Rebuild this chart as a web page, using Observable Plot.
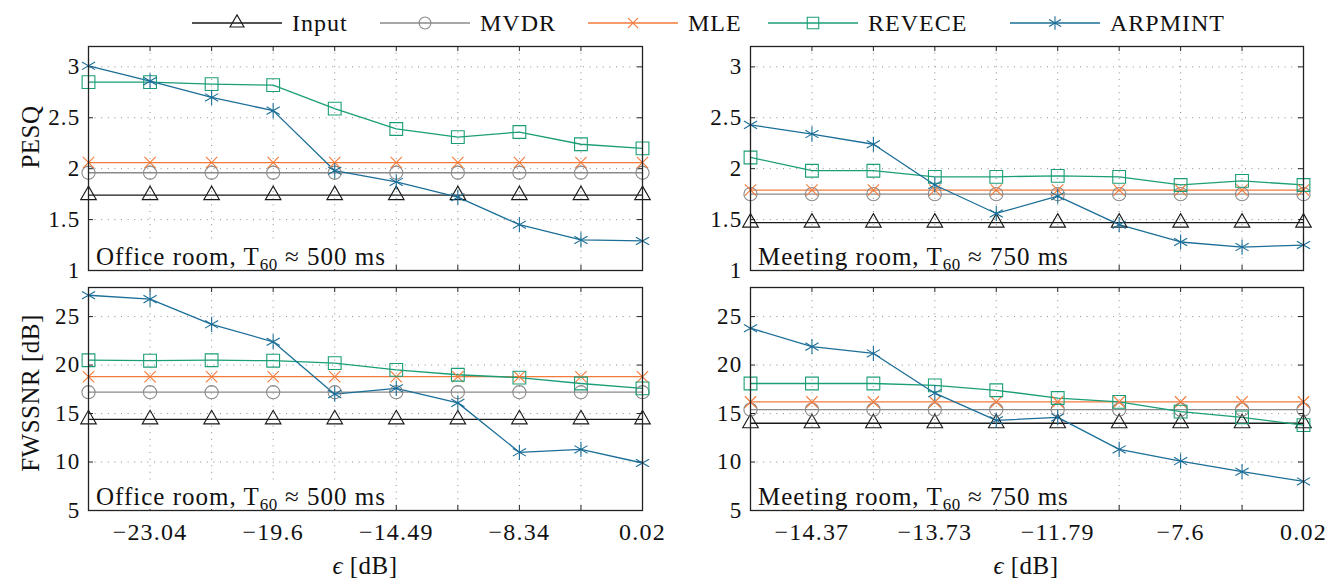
<!DOCTYPE html>
<html><head><meta charset="utf-8">
<script src="https://cdn.jsdelivr.net/npm/d3@7"></script>
<script src="https://cdn.jsdelivr.net/npm/@observablehq/plot@0.6"></script>
<style>
body{margin:0;background:#fff;}
#root{position:relative;width:1342px;height:579px;font-family:"Liberation Serif","Times New Roman",serif;color:#111;overflow:hidden;}
.panel{position:absolute;}
.panel svg{overflow:visible;}
.lab{position:absolute;white-space:nowrap;font-size:25px;line-height:1;letter-spacing:0.5px;}
.note{position:absolute;white-space:nowrap;font-size:25px;line-height:25px;height:25px;background:#fff;padding:0 4px 0 6px;letter-spacing:1px;}
.note sub{font-size:17px;line-height:0;vertical-align:-5px;letter-spacing:0.5px;}
.leg{position:absolute;top:8px;height:30px;display:flex;align-items:center;font-size:24px;letter-spacing:1px;}
.leg span{margin-left:10px;}
</style>
</head><body>
<div id="root">
  <div class="panel" id="p-tl" style="left:0;top:40px"></div>
  <div class="panel" id="p-tr" style="left:660px;top:40px"></div>
  <div class="panel" id="p-bl" style="left:0;top:280px"></div>
  <div class="panel" id="p-br" style="left:660px;top:280px"></div>
</div>
<script>
// ---------- data ----------
const methods = ["Input", "MVDR", "MLE", "REVECE", "ARPMINT"];
const colors  = ["#1a1a1a", "#8a8a8a", "#f47a3a", "#1b9e77", "#1b6e97"];
const symbols = ["triangle", "circle", "times", "square", "asterisk"];
const markerR = [5.8, 6.6, 5.2, 7.2, 7.2];

const xIndex = [0, 1, 2, 3, 4, 5, 6, 7, 8, 9];
const tickIdx = [1, 3, 5, 7, 9];
const officeTickLabels  = ["−23.04", "−19.6", "−14.49", "−8.34", "0.02"];
const meetingTickLabels = ["−14.37", "−13.73", "−11.79", "−7.6", "0.02"];

const pesqTicks = [1, 1.5, 2, 2.5, 3];
const fwssnrTicks = [5, 10, 15, 20, 25];
const pesqDomain = [1, 3.2];
const fwssnrDomain = [5, 28];

// PESQ, office room
const pesqOfficeInput   = [1.74, 1.74, 1.74, 1.74, 1.74, 1.74, 1.74, 1.74, 1.74, 1.74];
const pesqOfficeMVDR    = [1.96, 1.96, 1.96, 1.96, 1.96, 1.96, 1.96, 1.96, 1.96, 1.96];
const pesqOfficeMLE     = [2.06, 2.06, 2.06, 2.06, 2.06, 2.06, 2.06, 2.06, 2.06, 2.06];
const pesqOfficeREVECE  = [2.85, 2.85, 2.83, 2.82, 2.59, 2.39, 2.31, 2.36, 2.24, 2.20];
const pesqOfficeARPMINT = [3.01, 2.86, 2.70, 2.57, 1.98, 1.87, 1.72, 1.45, 1.30, 1.29];

// PESQ, meeting room
const pesqMeetingInput   = [1.47, 1.47, 1.47, 1.47, 1.47, 1.47, 1.47, 1.47, 1.47, 1.47];
const pesqMeetingMVDR    = [1.75, 1.75, 1.75, 1.75, 1.75, 1.75, 1.75, 1.75, 1.75, 1.75];
const pesqMeetingMLE     = [1.79, 1.79, 1.79, 1.79, 1.79, 1.79, 1.79, 1.79, 1.79, 1.79];
const pesqMeetingREVECE  = [2.11, 1.98, 1.98, 1.92, 1.92, 1.93, 1.92, 1.84, 1.88, 1.84];
const pesqMeetingARPMINT = [2.43, 2.34, 2.24, 1.84, 1.56, 1.73, 1.45, 1.28, 1.23, 1.25];

// FWSSNR, office room
const fwOfficeInput   = [14.4, 14.4, 14.4, 14.4, 14.4, 14.4, 14.4, 14.4, 14.4, 14.4];
const fwOfficeMVDR    = [17.2, 17.2, 17.2, 17.2, 17.2, 17.2, 17.2, 17.2, 17.2, 17.2];
const fwOfficeMLE     = [18.8, 18.8, 18.8, 18.8, 18.8, 18.8, 18.8, 18.8, 18.8, 18.8];
const fwOfficeREVECE  = [20.5, 20.45, 20.5, 20.45, 20.2, 19.5, 19.0, 18.7, 18.1, 17.6];
const fwOfficeARPMINT = [27.2, 26.8, 24.2, 22.4, 17.0, 17.6, 16.1, 11.0, 11.3, 9.9];

// FWSSNR, meeting room
const fwMeetingInput   = [14.0, 14.0, 14.0, 14.0, 14.0, 14.0, 14.0, 14.0, 14.0, 14.0];
const fwMeetingMVDR    = [15.4, 15.4, 15.4, 15.4, 15.4, 15.4, 15.4, 15.4, 15.4, 15.4];
const fwMeetingMLE     = [16.2, 16.2, 16.2, 16.2, 16.2, 16.2, 16.2, 16.2, 16.2, 16.2];
const fwMeetingREVECE  = [18.1, 18.1, 18.1, 17.9, 17.4, 16.6, 16.2, 15.2, 14.6, 13.8];
const fwMeetingARPMINT = [23.8, 21.9, 21.2, 17.1, 14.3, 14.6, 11.3, 10.1, 9.0, 8.0];

// ---------- helpers ----------
function tidy(seriesList) {
  const rows = [];
  seriesList.forEach((vals, k) => vals.forEach((v, i) => rows.push({method: methods[k], i: xIndex[i], v})));
  return rows;
}

function makePanel({width, height, mL, mR, mT, mB, yDomain, yTicks, tickLabels, showX, series}) {
  const rows = tidy(series);
  const plotW = width - mL - mR, plotH = height - mT - mB;
  const tickCol = "#222";
  const dots = methods.map((m, k) => Plot.dot(rows.filter(d => d.method === m), {
    x: "i", y: "v", symbol: () => symbols[k], stroke: () => colors[k], fill: "none", r: markerR[k], strokeWidth: 1.1
  }));
  const svg = Plot.plot({
    width, height, marginLeft: mL, marginRight: mR, marginTop: mT, marginBottom: mB,
    style: {fontFamily: "'Liberation Serif', 'Times New Roman', serif", fontSize: "23px", background: "transparent", overflow: "visible", color: "#111"},
    x: {domain: [0, 9], axis: null},
    y: {domain: yDomain, axis: null},
    symbol: {type: "identity"},
    color: {type: "identity"},
    marks: [
      Plot.gridX(xIndex, {stroke: "#8a8a8a", strokeOpacity: 1, strokeWidth: 1, strokeDasharray: "1,5.6"}),
      Plot.gridY(yTicks, {stroke: "#8a8a8a", strokeOpacity: 1, strokeWidth: 1, strokeDasharray: "1,5.6"}),
      Plot.ruleX(xIndex, {x: d => d, insetBottom: plotH - 5, stroke: tickCol}),
      Plot.ruleX(xIndex, {x: d => d, insetTop: plotH - 5, stroke: tickCol}),
      Plot.ruleY(yTicks, {y: d => d, insetRight: plotW - 5, stroke: tickCol}),
      Plot.ruleY(yTicks, {y: d => d, insetLeft: plotW - 5, stroke: tickCol}),
      Plot.axisY(yTicks, {anchor: "left", tickSize: 0, tickPadding: 8, tickFormat: d => String(d), fontSize: 23, label: null, className: "ytick"}),
      showX ? Plot.axisX(tickIdx, {anchor: "bottom", tickSize: 0, tickPadding: 12, tickFormat: d => tickLabels[tickIdx.indexOf(d)], fontSize: 24, label: null, className: "xtick"}) : null,
      Plot.line(rows, {x: "i", y: "v", z: "method", stroke: d => colors[methods.indexOf(d.method)], strokeWidth: 1.3}),
      ...dots,
      Plot.frame({stroke: "#222", strokeWidth: 1.3})
    ]
  });
  svg.querySelectorAll("text").forEach(t => t.setAttribute("letter-spacing", "1.2"));
  return svg;
}

const L = {width: 660, mL: 88, mR: 18};
const R = {width: 682, mL: 90, mR: 39};
const T = {height: 240, mT: 6, mB: 10};
const B = {height: 299, mT: 7, mB: 69};

document.getElementById("p-tl").append(makePanel({...L, ...T, yDomain: pesqDomain, yTicks: pesqTicks, showX: false,
  series: [pesqOfficeInput, pesqOfficeMVDR, pesqOfficeMLE, pesqOfficeREVECE, pesqOfficeARPMINT]}));
document.getElementById("p-tr").append(makePanel({...R, ...T, yDomain: pesqDomain, yTicks: pesqTicks, showX: false,
  series: [pesqMeetingInput, pesqMeetingMVDR, pesqMeetingMLE, pesqMeetingREVECE, pesqMeetingARPMINT]}));
document.getElementById("p-bl").append(makePanel({...L, ...B, yDomain: fwssnrDomain, yTicks: fwssnrTicks, showX: true, tickLabels: officeTickLabels,
  series: [fwOfficeInput, fwOfficeMVDR, fwOfficeMLE, fwOfficeREVECE, fwOfficeARPMINT]}));
document.getElementById("p-br").append(makePanel({...R, ...B, yDomain: fwssnrDomain, yTicks: fwssnrTicks, showX: true, tickLabels: meetingTickLabels,
  series: [fwMeetingInput, fwMeetingMVDR, fwMeetingMLE, fwMeetingREVECE, fwMeetingARPMINT]}));

// ---------- legend ----------
const legendLeft = [192, 380, 588, 768, 1010];
const symMap = {triangle: d3.symbolTriangle, circle: d3.symbolCircle, times: d3.symbolTimes, square: d3.symbolSquare, asterisk: d3.symbolAsterisk};
const root = document.getElementById("root");
methods.forEach((m, k) => {
  const item = document.createElement("div");
  item.className = "leg";
  item.style.left = legendLeft[k] + "px";
  const r = markerR[k] * 0.9;
  const path = d3.symbol(symMap[symbols[k]], Math.PI * r * r)();
  item.innerHTML = `<svg width="90" height="30" style="overflow:visible"><line x1="0" x2="90" y1="15" y2="15" stroke="${colors[k]}" stroke-width="1.3"/>` +
    `<path d="${path}" transform="translate(45,15)" fill="none" stroke="${colors[k]}" stroke-width="1.1"/></svg><span>${m}</span>`;
  root.append(item);
});

// ---------- labels & notes ----------
function addLabel(html, x, y, rot) {
  const d = document.createElement("div");
  d.className = "lab";
  d.innerHTML = html;
  d.style.left = x + "px"; d.style.top = y + "px";
  d.style.transform = `translate(-50%,-50%)` + (rot ? ` rotate(${rot}deg)` : "");
  root.append(d);
}
addLabel("PESQ", 30, 137, -90);
addLabel("FWSSNR [dB]", 30, 393, -90);
addLabel("<i>ϵ</i> [dB]", 365, 565, 0);
addLabel("<i>ϵ</i> [dB]", 1026, 565, 0);

function addNote(html, x, y) {
  const d = document.createElement("div");
  d.className = "note";
  d.innerHTML = html;
  d.style.left = x + "px"; d.style.top = y + "px";
  root.append(d);
}
addNote("Office room, T<sub>60</sub> ≈ 500 ms", 90, 244);
addNote("Meeting room, T<sub>60</sub> ≈ 750 ms", 752, 244);
addNote("Office room, T<sub>60</sub> ≈ 500 ms", 90, 484);
addNote("Meeting room, T<sub>60</sub> ≈ 750 ms", 752, 484);
</script>
</body></html>
